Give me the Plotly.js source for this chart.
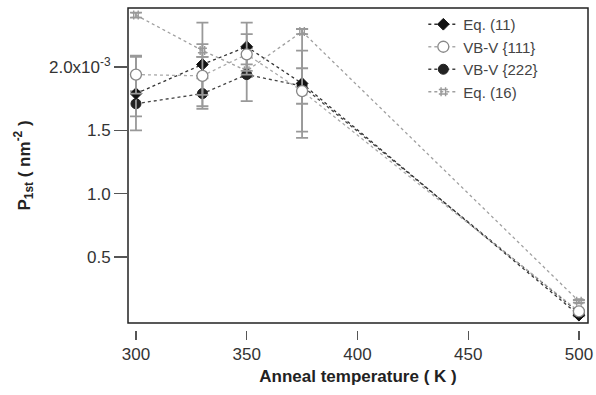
<!DOCTYPE html>
<html><head><meta charset="utf-8">
<script src="https://cdn.plot.ly/plotly-3.0.1.min.js"></script>
<style>html,body{margin:0;padding:0;background:#fff}#plot{width:596px;height:395px}</style>
</head><body><div id="plot"></div>
<script>
// Anneal temperature (K)
const temps = [300, 330, 350, 375, 500];
// P_1st values (units of 1e-3 nm^-2)
const eq11 = [1.79, 2.02, 2.16, 1.87, 0.04];
const eq11Err = [0.29, 0.33, 0.19, 0.43, 0.01];
const vb111 = [1.94, 1.93, 2.10, 1.81, 0.07];
const vb111Err = [0.15, 0.15, 0.16, 0.32, 0.01];
const vb222 = [1.71, 1.79, 1.94, 1.85, 0.06];
const vb222Err = [0.10, 0.12, 0.21, 0.14, 0.01];
const eq16 = [2.41, 2.13, 1.97, 2.28, 0.15];
const eq16Err = [0.02, 0.05, 0.05, 0.02, 0.01];
const yTickVals = [0.5, 1.0, 1.5, 2.0];
const yTickText = ['0.5', '1.0', '1.5', '2.0x10<sup>-3</sup>'];
const xTickVals = [300, 350, 400, 450, 500];
const names = ['Eq. (11)', 'VB-V {111}', 'VB-V {222}', 'Eq. (16)'];

function err(a){return {type:'data', array:a, visible:true, color:'#999999', thickness:1.8, width:6};}

const traces = [
  {x:temps, y:eq16, error_y:err(eq16Err), name:names[3], legendrank:4, mode:'lines+markers',
   line:{color:'#a0a0a0', dash:'dot', width:1.3},
   marker:{symbol:'hash-open', size:9, color:'#999', line:{color:'#999', width:1.4}}},
  {x:temps, y:vb222, error_y:err(vb222Err), name:names[2], legendrank:3, mode:'lines+markers',
   line:{color:'#444', dash:'dot', width:1.3},
   marker:{symbol:'circle', size:10, color:'#222', line:{color:'#222', width:1}}},
  {x:temps, y:eq11, error_y:err(eq11Err), name:names[0], legendrank:1, mode:'lines+markers',
   line:{color:'#333', dash:'dot', width:1.3},
   marker:{symbol:'diamond', size:9, color:'#111', line:{color:'#111', width:1}}},
  {x:temps, y:vb111, error_y:err(vb111Err), name:names[1], legendrank:2, mode:'lines+markers',
   line:{color:'#aaaaaa', dash:'dot', width:1.3},
   marker:{symbol:'circle', size:11, color:'#fff', line:{color:'#888', width:1.3}}}
];

const F = 'Liberation Sans, Arial, Helvetica, sans-serif';
const layout = {
  width:596, height:395,
  margin:{l:128, r:8, t:8, b:65},
  paper_bgcolor:'#fff', plot_bgcolor:'#fff',
  font:{family:F, size:16, color:'#333'},
  showlegend:true,
  legend:{x:0.642, y:1.0, xanchor:'left', yanchor:'top', bgcolor:'rgba(0,0,0,0)',
          font:{family:F, size:15, color:'#444'}, itemwidth:30, tracegroupgap:0},
  xaxis:{range:[296.4, 504.1], anchor:'free', position:0, showline:false, zeroline:false, showgrid:false,
         tickvals:xTickVals, ticks:'outside', ticklen:9, tickwidth:1.3, tickcolor:'#555',
         tickfont:{family:F, size:17, color:'#333'},
         title:{text:'<b>Anneal temperature ( K )</b>', font:{family:F, size:17, color:'#222'}, standoff:6}},
  yaxis:{range:[-0.021, 2.466], domain:[0.022, 1], showline:false, zeroline:false, showgrid:false,
         tickvals:yTickVals, ticktext:yTickText, ticks:'outside', ticklen:13, tickwidth:1.3, tickcolor:'#555',
         tickfont:{family:F, size:17, color:'#333'},
         title:{text:'<b>P<sub>1st</sub> ( nm<sup>-2</sup> )</b>', font:{family:F, size:17, color:'#222'}, standoff:14}},
  shapes:[{type:'rect', xref:'paper', yref:'paper', x0:0, x1:1, y0:0.022, y1:1,
           line:{color:'#222', width:1.5}, fillcolor:'rgba(0,0,0,0)', layer:'above'}]
};
Plotly.newPlot('plot', traces, layout, {staticPlot:true, displayModeBar:false});
</script></body></html>
